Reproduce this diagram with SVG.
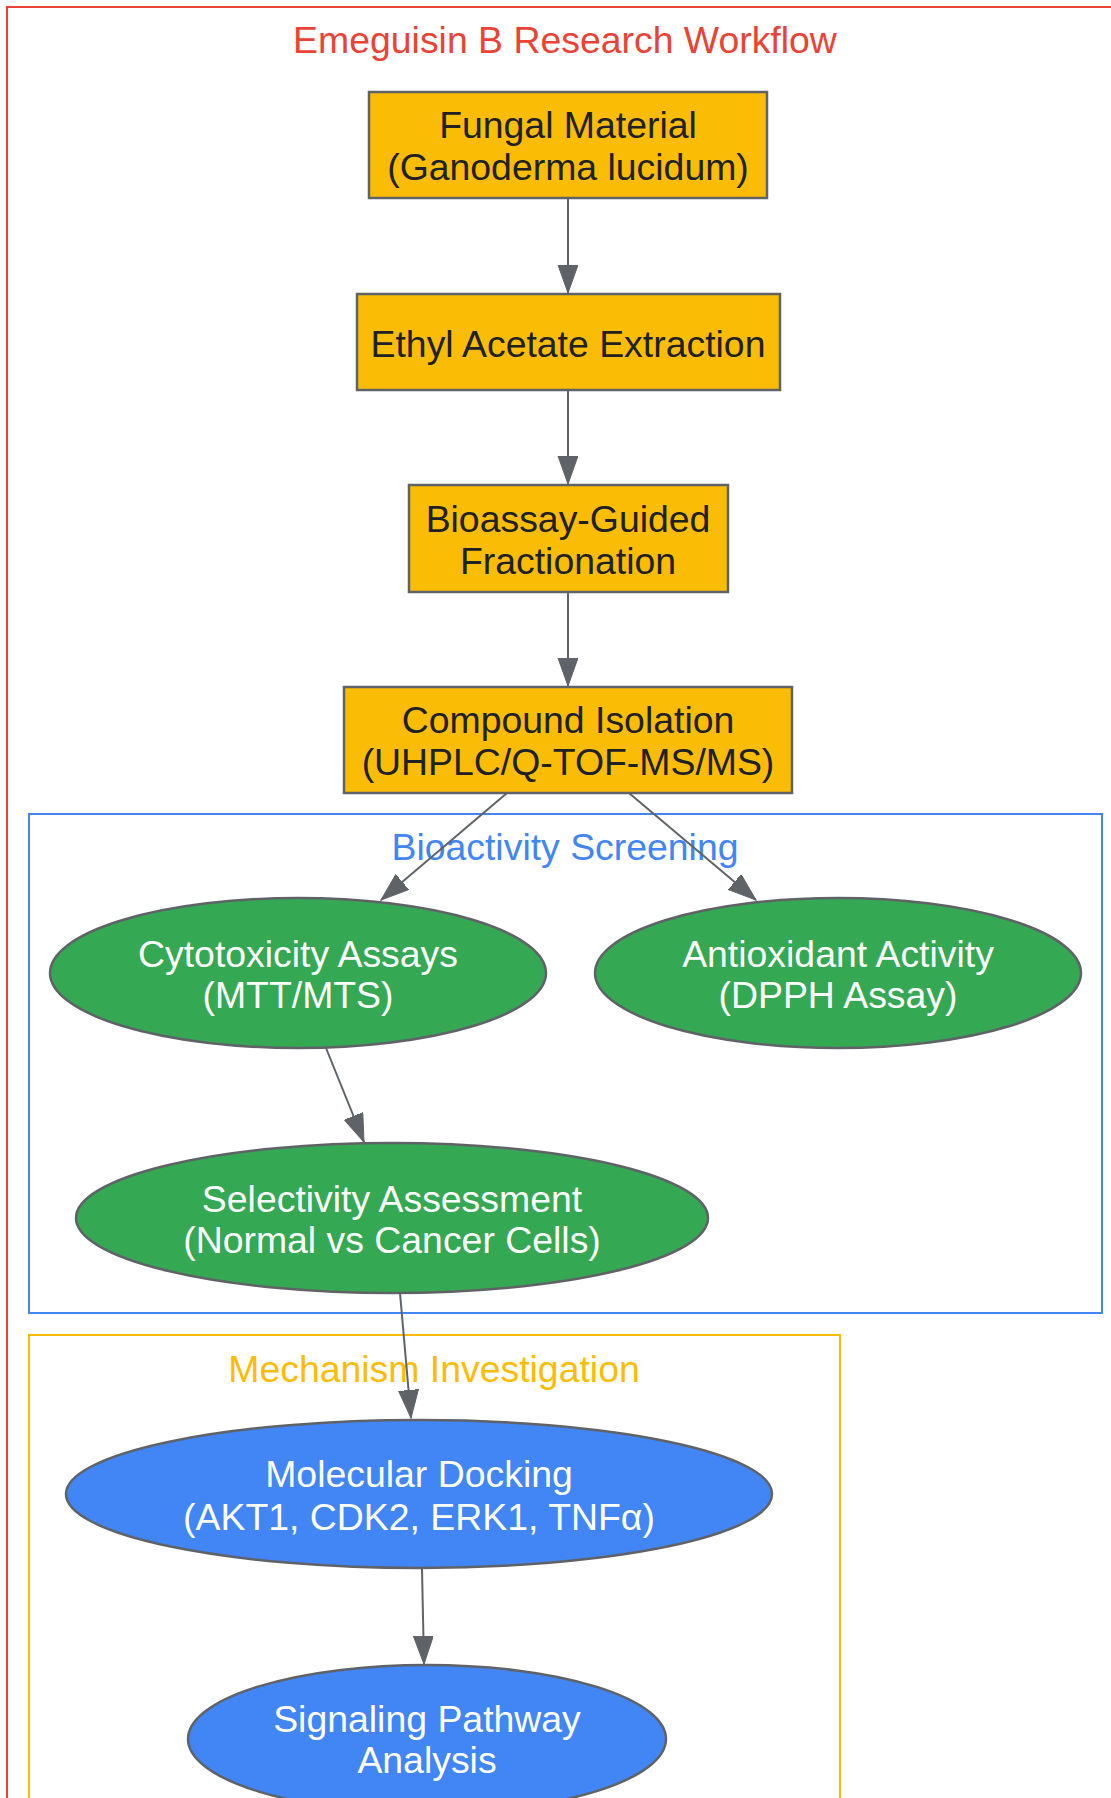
<svg xmlns="http://www.w3.org/2000/svg" width="1111" height="1798" viewBox="0 0 1111 1798">
<style>
text{font-family:"Liberation Sans",Arial,sans-serif;font-size:37.4px;text-anchor:middle}
.box{fill:#fbbc05;stroke:#5f6368;stroke-width:2.5}
.g{fill:#34a853;stroke:#5f6368;stroke-width:2.5}
.b{fill:#4285f4;stroke:#5f6368;stroke-width:2.5}
.dk{fill:#202124}
.wt{fill:#ffffff}
.edge{stroke:#5f6368;stroke-width:2;fill:none}
</style>
<defs>
<marker id="ah" markerUnits="userSpaceOnUse" markerWidth="30" markerHeight="22" refX="28" refY="10" orient="auto">
<path d="M0,0 L28,10 L0,20 Z" fill="#5f6368" stroke="#5f6368" stroke-width="1"/>
</marker>
</defs>
<rect width="1111" height="1798" fill="#ffffff"/>
<g id="cluster_main">
<rect x="7" y="7" width="1130" height="1830" fill="none" stroke="#ea4335" stroke-width="2"/>
<text x="565" y="53" fill="#ea4335">Emeguisin B Research Workflow</text>
</g>
<g id="cluster_bio">
<rect x="29" y="814" width="1073" height="499" fill="none" stroke="#4285f4" stroke-width="2"/>
<text x="565" y="860" fill="#4285f4">Bioactivity Screening</text>
</g>
<g id="cluster_mech">
<rect x="29" y="1335" width="811" height="500" fill="none" stroke="#fbbc05" stroke-width="2"/>
<text x="434" y="1382" fill="#fbbc05">Mechanism Investigation</text>
</g>
<g id="edges">
<line class="edge" x1="568" y1="198" x2="568" y2="293" marker-end="url(#ah)"/>
<line class="edge" x1="568" y1="390" x2="568" y2="484" marker-end="url(#ah)"/>
<line class="edge" x1="568" y1="592" x2="568" y2="686" marker-end="url(#ah)"/>
<line class="edge" x1="507" y1="793" x2="381" y2="900" marker-end="url(#ah)"/>
<line class="edge" x1="629" y1="793" x2="756" y2="900" marker-end="url(#ah)"/>
<line class="edge" x1="326" y1="1048" x2="364" y2="1142" marker-end="url(#ah)"/>
<line class="edge" x1="400" y1="1293" x2="411" y2="1418" marker-end="url(#ah)"/>
<line class="edge" x1="422" y1="1569" x2="424" y2="1664" marker-end="url(#ah)"/>
</g>
<g id="fungal">
<rect class="box" x="369" y="92" width="398" height="106"/>
<text class="dk" x="568" y="138">Fungal Material</text>
<text class="dk" x="568" y="180">(Ganoderma lucidum)</text>
</g>
<g id="extraction">
<rect class="box" x="357" y="294" width="423" height="96"/>
<text class="dk" x="568" y="357">Ethyl Acetate Extraction</text>
</g>
<g id="fractionation">
<rect class="box" x="409" y="485" width="319" height="107"/>
<text class="dk" x="568" y="532">Bioassay-Guided</text>
<text class="dk" x="568" y="574">Fractionation</text>
</g>
<g id="isolation">
<rect class="box" x="344" y="687" width="448" height="106"/>
<text class="dk" x="568" y="733">Compound Isolation</text>
<text class="dk" x="568" y="775">(UHPLC/Q-TOF-MS/MS)</text>
</g>
<g id="cytotoxicity">
<ellipse class="g" cx="298" cy="973" rx="248" ry="75"/>
<text class="wt" x="298" y="967">Cytotoxicity Assays</text>
<text class="wt" x="298" y="1008">(MTT/MTS)</text>
</g>
<g id="antioxidant">
<ellipse class="g" cx="838" cy="973" rx="243" ry="75"/>
<text class="wt" x="838" y="967">Antioxidant Activity</text>
<text class="wt" x="838" y="1008">(DPPH Assay)</text>
</g>
<g id="selectivity">
<ellipse class="g" cx="392" cy="1218" rx="316" ry="75"/>
<text class="wt" x="392" y="1212">Selectivity Assessment</text>
<text class="wt" x="392" y="1253">(Normal vs Cancer Cells)</text>
</g>
<g id="docking">
<ellipse class="b" cx="419" cy="1494" rx="353" ry="74"/>
<text class="wt" x="419" y="1487">Molecular Docking</text>
<text class="wt" x="419" y="1530">(AKT1, CDK2, ERK1, TNFα)</text>
</g>
<g id="signaling">
<ellipse class="b" cx="427" cy="1739" rx="239" ry="74"/>
<text class="wt" x="427" y="1732">Signaling Pathway</text>
<text class="wt" x="427" y="1773">Analysis</text>
</g>
</svg>
